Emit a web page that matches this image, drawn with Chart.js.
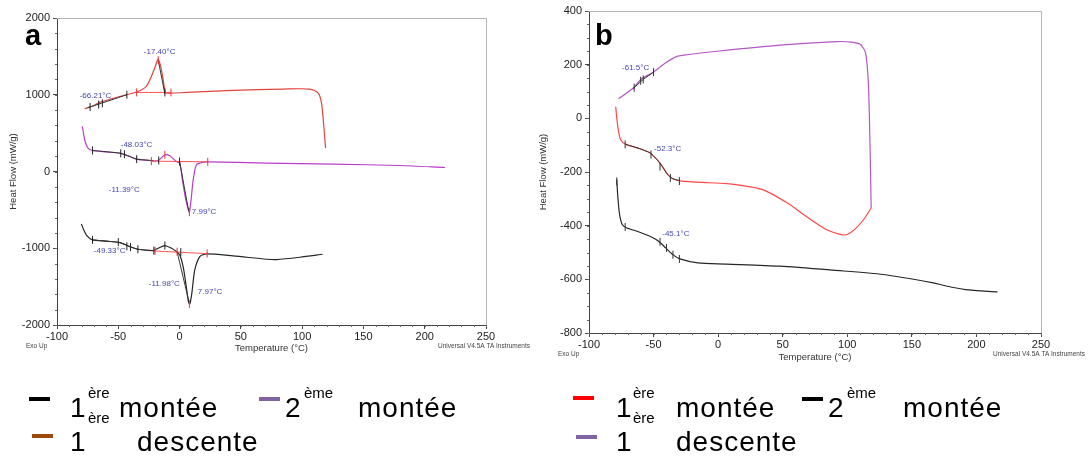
<!DOCTYPE html>
<html>
<head>
<meta charset="utf-8">
<script src="https://cdn.jsdelivr.net/npm/chart.js@4.4.1/dist/chart.umd.min.js"></script>
<style>
  body { margin: 0; width: 1089px; height: 457px; position: relative; overflow: hidden; background: #fff;
         font-family: "Liberation Sans", Arial, sans-serif; }
  .box { position: absolute; }
  .tag { position: absolute; font-weight: bold; font-size: 29px; line-height: 1; color: #000; }
  .lg { position: absolute; line-height: 1; color: #000; white-space: nowrap; }
  .big { font-size: 28px; letter-spacing: 1px; }
  .sup { font-size: 15px; }
  .mk { position: absolute; width: 21px; height: 4px; }
</style>
</head>
<body>
<div class="box" style="left:0;top:0;width:550px;height:360px"><canvas id="chartA"></canvas></div>
<div class="box" style="left:530px;top:0;width:559px;height:368px"><canvas id="chartB"></canvas></div>
<div class="tag" style="left:25px;top:21px">a</div>
<div class="tag" style="left:595px;top:21px">b</div>

<!-- legend a -->
<div class="mk" style="left:29px;top:397px;background:#000"></div>
<div class="lg big" style="left:70px;top:394px">1</div>
<div class="lg sup" style="left:88px;top:385px">ère</div>
<div class="lg big" style="left:119px;top:394px">montée</div>
<div class="mk" style="left:259px;top:397px;background:#8064a2"></div>
<div class="lg big" style="left:285px;top:394px">2</div>
<div class="lg sup" style="left:304px;top:385px">ème</div>
<div class="lg big" style="left:358px;top:394px">montée</div>
<div class="mk" style="left:32px;top:434px;background:#9c4a0c"></div>
<div class="lg big" style="left:70px;top:428px">1</div>
<div class="lg sup" style="left:88px;top:410px">ère</div>
<div class="lg big" style="left:137px;top:428px">descente</div>

<!-- legend b -->
<div class="mk" style="left:573px;top:396px;background:#ff0000"></div>
<div class="lg big" style="left:616px;top:394px">1</div>
<div class="lg sup" style="left:633px;top:385px">ère</div>
<div class="lg big" style="left:676px;top:394px">montée</div>
<div class="mk" style="left:802px;top:397px;background:#000"></div>
<div class="lg big" style="left:828px;top:394px">2</div>
<div class="lg sup" style="left:847px;top:385px">ème</div>
<div class="lg big" style="left:903px;top:394px">montée</div>
<div class="mk" style="left:576px;top:435px;background:#8064a2"></div>
<div class="lg big" style="left:616px;top:428px">1</div>
<div class="lg sup" style="left:633px;top:410px">ère</div>
<div class="lg big" style="left:676px;top:428px">descente</div>

<script>
// ---------- common ----------
const xTicks = [-100, -50, 0, 50, 100, 150, 200, 250];

// ---------- chart a ----------
const aSeries = ['1ère montée', '2ème montée', '1ère descente'];
const aYTicks = [2000, 1000, 0, -1000, -2000];

// 1ère descente (top)
const aDescT  = [-77.4, -70, -65.2, -55, -43.4, -33.9, -27.1, -23.0, -20.3, -17.5, -15.4, -13.4, -12.1, -10.7, 5.6, 43.7, 84.5, 106.3, 113.1, 115.8, 117.7, 119.1];
const aDescHF = [817, 860, 900, 950, 1000, 1043, 1109, 1239, 1348, 1460, 1370, 1196, 1065, 1022, 1030, 1057, 1074, 1074, 1022, 891, 587, 304];
// 2ème montée (middle)
const aM2T  = [-79.3, -77.4, -74.7, -71.1, -60, -48.8, -40.7, -35.2, -24.3, -17.5, -12.1, -8.0, -2.6, 0.2, 2.3, 5.1, 7.2, 8.0, 9.4, 11.1, 13.8, 19.2, 23.3, 70.9, 125.4, 179.8, 216.5];
const aM2HF = [587, 413, 304, 274, 255, 239, 196, 161, 143, 143, 217, 204, 130, 109, -109, -370, -500, -530, -370, -109, 87, 122, 126, 109, 96, 78, 52];
// 1ère montée (bottom)
const aM1T  = [-80.1, -78.2, -75.5, -71.1, -60, -48.8, -40.7, -33.9, -21.6, -17.5, -12.1, -6.6, -2.6, 0.2, 2.9, 5.1, 7.2, 8.3, 10.0, 12.4, 16.5, 21.9, 43.7, 70.9, 79.1, 98.1, 116.7];
const aM1HF = [-683, -761, -839, -891, -908, -926, -978, -1013, -1030, -1000, -965, -1000, -1043, -1087, -1239, -1457, -1696, -1726, -1587, -1283, -1109, -1074, -1100, -1143, -1148, -1117, -1078];

// analysis overlays (null = break)
const aTanT  = [-75, -43, null, -17.4, -12, null, -71, -48.8, -40.7, -35, -22, null, 0, 7.5, null, -71, -48.8, -40.7, -33.9, -21.6, null, -2, 8];
const aTanHF = [830, 1000, null, 1450, 1010, null, 274, 239, 196, 161, 143, null, 130, -520, null, -891, -926, -978, -1013, -1030, null, -1045, -1720];
const aBaseT  = [-35, -7, null, -23, 23, null, -21.6, 22.5];
const aBaseHF = [1030, 1030, null, 135, 126, null, -1035, -1070];
const aMarkT  = [-73, -66, -63, -43, -12, -71, -48, -45, -35, -17, 0, -71, -50, -43, -40, -34, -21, -12, 1];
const aMarkHF = [840, 872, 888, 1000, 1030, 274, 237, 225, 161, 143, 130, -891, -920, -975, -985, -1013, -1030, -965, -1050];
const aRedMarkT  = [-35, -7, -17.4, -23, 23, -12, 8, -20, -2, 22.5, 8];
const aRedMarkHF = [1030, 1030, 1450, 135, 126, 217, -530, -1035, -1045, -1068, -1726];

const aNoteText = ['-17.40°C', '-66.21°C', '-48.03°C', '-11.39°C', '7.99°C', '-49.33°C', '-11.98°C', '7.97°C'];
const aNoteT    = [-29.2, -81.5, -48.0, -57.8, 10.0, -70.0, -25.1, 14.9];
const aNoteHF   = [1560, 987, 348, -239, -526, -1034, -1465, -1569];

// ---------- chart b ----------
const bSeries = ['1ère montée', '2ème montée', '1ère descente'];
const bYTicks = [400, 200, 0, -200, -400, -600, -800];

// 1ère descente (purple, top)
const bDescT  = [-77.1, -65.5, -59.9, -50.3, -40.6, -32.3, -24.0, 0.8, 47.8, 92.0, 103.0, 110.0, 114.1, 116.3, 117.4, 118.5];
const bDescHF = [73, 114, 145, 172, 207, 230, 237, 251, 273, 286, 284, 276, 245, 133, -54, -334];
// 1ère montée (red)
const bM1T  = [-79.3, -78.6, -77.3, -75.4, -71.5, -62.7, -53.0, -47.5, -43.4, -39.2, -35.1, -28.2, -7.5, 9.1, 34.0, 53.3, 69.9, 83.7, 96.1, 100.3, 105.8, 112.7, 118.5];
const bM1HF = [43, 6, -44, -81, -97, -110, -128, -153, -178, -209, -225, -234, -240, -244, -265, -315, -371, -414, -434, -432, -414, -377, -334];
// 2ème montée (black)
const bM2T  = [-78.5, -77.9, -76.5, -74.3, -71.0, -62.7, -51.7, -46.1, -40.6, -35.1, -29.6, -15.7, 6.4, 47.8, 89.2, 127.9, 166.6, 174.9, 191.4, 216.3];
const bM2HF = [-228, -278, -352, -396, -408, -421, -442, -458, -483, -508, -524, -539, -543, -551, -566, -582, -613, -623, -638, -647];

const bTanT  = [-66, -58, -50, null, -71.5, -62.7, -53, -47.5, -43.4, -39.2, -35.1, -30];
const bTanHF = [110, 145, 172, null, -97, -110, -128, -153, -178, -209, -225, -232];
const bMarkT  = [-65, -60, -58, -50, -72, -52, -45, -37, -30, -78.5, -72, -45, -40, -35, -30];
const bMarkHF = [114, 140, 145, 172, -97, -135, -180, -222, -234, -235, -405, -460, -483, -508, -524];

const bNoteText = ['-61.5°C', '-52.3°C', '-45.1°C'];
const bNoteT    = [-74.4, -49.6, -43.3];
const bNoteHF   = [188, -114, -431];

// ---------- helpers ----------
Chart.defaults.font.family = '"Liberation Sans", Arial, sans-serif';

function pts(xs, ys) {
  return xs.map((x, i) => ({ x: x, y: ys[i] }));
}
function curve(label, xs, ys, color) {
  return { label: label, data: pts(xs, ys), showLine: true, borderColor: color, borderWidth: 1.2,
           pointRadius: 0, tension: 0.25, order: 2 };
}
function overlay(xs, ys, color, width) {
  return { data: pts(xs, ys), showLine: true, spanGaps: false, borderColor: color, borderWidth: width,
           pointRadius: 0, tension: 0.2, order: 1 };
}
function marks(xs, ys, color) {
  return { data: pts(xs, ys), showLine: false, pointStyle: 'line', rotation: 90, pointRadius: 4,
           borderColor: color, borderWidth: 1, order: 0 };
}

const framePlugin = {
  id: 'frame',
  afterDraw(chart, args, o) {
    const { ctx, chartArea: a, scales } = chart;
    const sx = scales.x, sy = scales.y;
    ctx.save();
    // light frame top / right
    ctx.strokeStyle = '#b4b4b4';
    ctx.lineWidth = 1;
    ctx.beginPath();
    ctx.moveTo(a.left, a.top + 0.5);
    ctx.lineTo(a.right + 0.5, a.top + 0.5);
    ctx.lineTo(a.right + 0.5, a.bottom);
    ctx.stroke();
    // minor ticks
    ctx.strokeStyle = '#666';
    ctx.beginPath();
    for (let v = sx.min; v <= sx.max; v += o.xMinor) {
      const px = Math.round(sx.getPixelForValue(v)) + 0.5;
      ctx.moveTo(px, a.bottom); ctx.lineTo(px, a.bottom + 2);
    }
    for (let v = sy.min; v <= sy.max; v += o.yMinor) {
      const py = Math.round(sy.getPixelForValue(v)) + 0.5;
      ctx.moveTo(a.left, py); ctx.lineTo(a.left - 2, py);
    }
    ctx.stroke();
    // peak labels
    ctx.fillStyle = '#4646b4';
    ctx.font = '8px "Liberation Sans", Arial, sans-serif';
    ctx.textAlign = 'left';
    ctx.textBaseline = 'middle';
    o.notes.forEach((t, i) => {
      ctx.fillText(t, sx.getPixelForValue(o.noteX[i]), sy.getPixelForValue(o.noteY[i]));
    });
    // instrument footer
    ctx.fillStyle = '#444';
    ctx.font = '6.5px "Liberation Sans", Arial, sans-serif';
    ctx.fillText('Exo Up', a.left - 31, a.bottom + 21);
    ctx.textAlign = 'right';
    ctx.fillText('Universal V4.5A TA Instruments', a.right + 44, a.bottom + 21);
    ctx.restore();
  }
};

function buildOptions(yTicks, yWidth, padRight, padTop, xHeight, titleBottom, plug) {
  return {
    responsive: true,
    maintainAspectRatio: false,
    animation: false,
    layout: { padding: { left: 0, right: padRight, top: padTop, bottom: 0 } },
    plugins: { legend: { display: false }, tooltip: { enabled: false }, frame: plug },
    scales: {
      x: {
        type: 'linear', min: xTicks[0], max: xTicks[xTicks.length - 1],
        afterBuildTicks: s => { s.ticks = xTicks.map(v => ({ value: v })); },
        afterFit: s => { s.height = xHeight; },
        ticks: { color: '#222', font: { size: 11 }, padding: 1, maxRotation: 0, callback: v => String(v) },
        grid: { drawOnChartArea: false, drawTicks: true, tickLength: 4, color: '#444' },
        border: { color: '#444' },
        title: { display: true, text: 'Temperature (°C)', color: '#333', font: { size: 9.5 },
                 padding: { top: 0, bottom: titleBottom } }
      },
      y: {
        type: 'linear', min: yTicks[yTicks.length - 1], max: yTicks[0],
        afterBuildTicks: s => { s.ticks = yTicks.map(v => ({ value: v })); },
        afterFit: s => { s.width = yWidth; },
        ticks: { color: '#222', font: { size: 11 }, padding: 3, callback: v => String(v) },
        grid: { drawOnChartArea: false, drawTicks: true, tickLength: 4, color: '#444' },
        border: { color: '#444' },
        title: { display: true, text: 'Heat Flow (mW/g)', color: '#333', font: { size: 9.5 },
                 padding: { top: 8, bottom: 0 } }
      }
    }
  };
}

new Chart(document.getElementById('chartA'), {
  type: 'scatter',
  data: {
    datasets: [
      marks(aMarkT, aMarkHF, '#222'),
      marks(aRedMarkT, aRedMarkHF, '#f03030'),
      overlay(aTanT, aTanHF, '#333', 1),
      overlay(aBaseT, aBaseHF, '#ff5050', 1),
      curve(aSeries[2], aDescT, aDescHF, '#e0443e'),
      curve(aSeries[1], aM2T, aM2HF, '#b83cc8'),
      curve(aSeries[0], aM1T, aM1HF, '#262626')
    ]
  },
  options: buildOptions(aYTicks, 57, 64, 18, 35, 6,
    { notes: aNoteText, noteX: aNoteT, noteY: aNoteHF, xMinor: 10, yMinor: 200 }),
  plugins: [framePlugin]
});

new Chart(document.getElementById('chartB'), {
  type: 'scatter',
  data: {
    datasets: [
      marks(bMarkT, bMarkHF, '#333'),
      overlay(bTanT, bTanHF, '#333', 1),
      curve(bSeries[2], bDescT, bDescHF, '#b456c8'),
      curve(bSeries[0], bM1T, bM1HF, '#ff4646'),
      curve(bSeries[1], bM2T, bM2HF, '#262626')
    ]
  },
  options: buildOptions(bYTicks, 59, 48, 11, 35, 5,
    { notes: bNoteText, noteX: bNoteT, noteY: bNoteHF, xMinor: 10, yMinor: 50 }),
  plugins: [framePlugin]
});
</script>
</body>
</html>
